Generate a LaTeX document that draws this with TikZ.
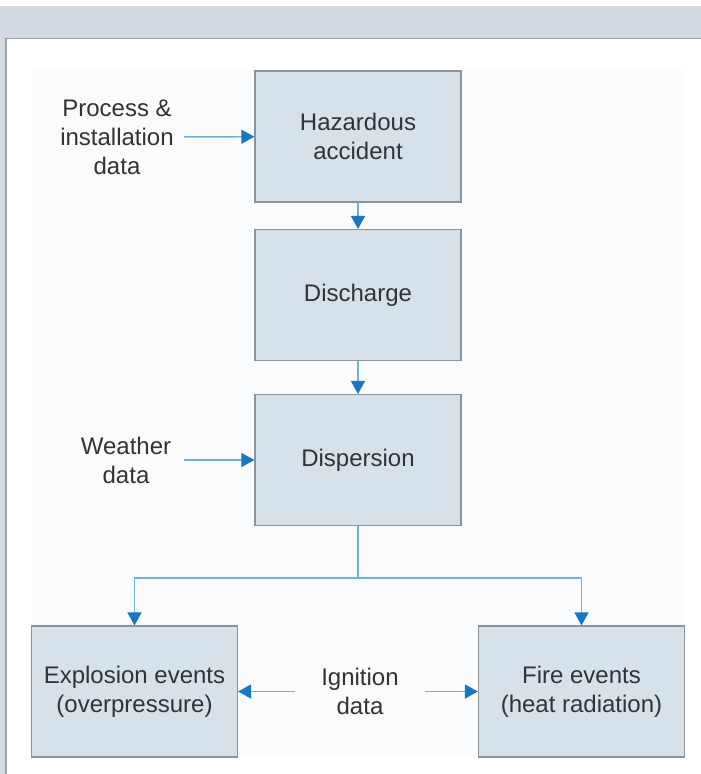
\documentclass[tikz,border=0pt]{standalone}
\usepackage{fontspec}
\setmainfont{Liberation Sans}
\usetikzlibrary{arrows.meta}
\definecolor{boxfill}{HTML}{D6E1EA}
\definecolor{boxline}{HTML}{8C9399}
\definecolor{flowline}{HTML}{6FB0E2}
\definecolor{flowtip}{HTML}{1677C2}
\definecolor{txt}{HTML}{333333}
\definecolor{band}{HTML}{D3DAE1}
\definecolor{frameline}{HTML}{9AA3AC}
\definecolor{panel}{HTML}{FAFBFD}

\begin{document}
\begin{tikzpicture}[
		x=1pt,y=-1pt,
		every node/.style={font=\fontsize{24}{29}\selectfont,text=txt,align=center},
		stage/.style={draw=boxline,fill=boxfill,line width=1.2pt,minimum width=206pt,minimum height=131pt,inner sep=0pt},
		lbl/.style={inner sep=0pt},
		flow/.style={draw=flowline,line width=1.5pt,-{Triangle[width=14pt,length=13pt,color=flowtip]}}
	]
	\useasboundingbox (0,0) rectangle (701,774);
	\fill[white] (0,0) rectangle (701,774);
	\fill[band] (0,6) rectangle (701,38);
	\fill[band] (0,38) rectangle (6,774);
	\draw[frameline,line width=1.2pt] (6,774) -- (6,38.5) -- (701,38.5);
	\fill[panel] (31,70) rectangle (685,757);

	\node[stage] (hazard) at (358,136.5) {Hazardous\\accident};
	\node[stage] (discharge) at (358,295) {Discharge};
	\node[stage] (dispersion) at (358,460) {Dispersion};
	\node[stage] (explosion) at (134.5,691.5) {Explosion events\\(overpressure)};
	\node[stage] (fire) at (581.5,691.5) {Fire events\\(heat radiation)};

	\node[lbl] (process) at (117,137) {Process \&\\installation\\data};
	\node[lbl] (weather) at (126,460) {Weather\\data};
	\node[lbl] (ignition) at (360,691.5) {Ignition\\data};

	\draw[flow] (hazard) -- (discharge);
	\draw[flow] (discharge) -- (dispersion);
	\draw[flow,shorten <=10pt] (process) -- (hazard);
	\draw[flow,shorten <=13pt] (weather) -- (dispersion);
	\draw[draw=flowline,line width=1.5pt] (dispersion.south) -- ++(0,52) coordinate (split);
	\draw[flow] (split) -| (explosion.north);
	\draw[flow] (split) -| (fire.north);
	\draw[flow,shorten <=26pt] (ignition) -- (explosion);
	\draw[flow,shorten <=26pt] (ignition) -- (fire);
\end{tikzpicture}
\end{document}
